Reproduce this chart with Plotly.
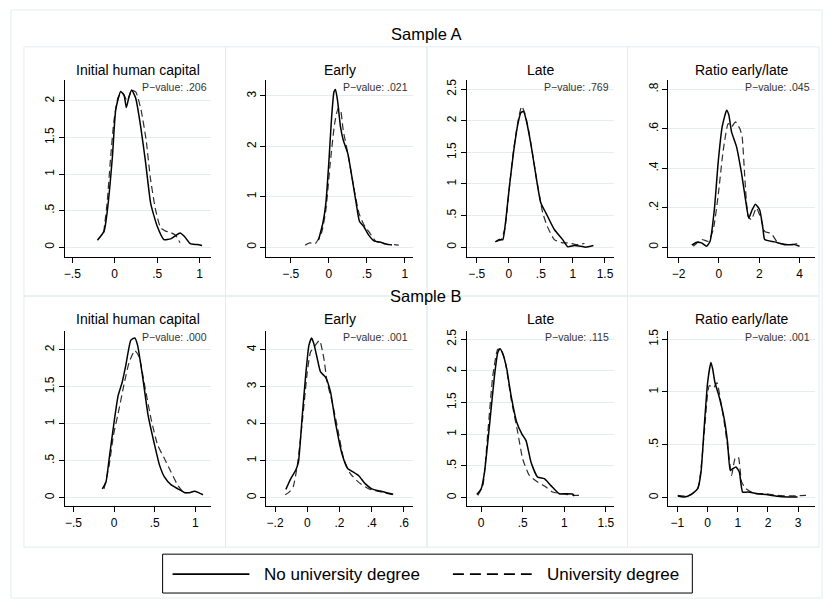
import plotly.graph_objects as go

# ---------------- data ----------------
panel_titles = ["Initial human capital", "Early", "Late", "Ratio early/late"] * 2
p_values = [".206", ".021", ".769", ".045", ".000", ".001", ".115", ".001"]
row_titles = ["Sample A", "Sample B"]
legend_labels = ["No university degree", "University degree"]

# Sample A - Initial human capital
a_init_no_x = [-0.204, -0.125, -0.086, -0.027, 0.012, 0.07, 0.11, 0.137, 0.169, 0.2, 0.247, 0.306, 0.365, 0.424, 0.5, 0.58, 0.66, 0.72, 0.77, 0.82, 0.89, 0.97, 1.03]
a_init_no_y = [0.095, 0.22, 0.51, 1.24, 1.88, 2.13, 2.08, 1.91, 2.06, 2.15, 2.04, 1.65, 1.15, 0.60, 0.29, 0.105, 0.114, 0.16, 0.195, 0.15, 0.05, 0.036, 0.023]
a_init_uni_x = [-0.13, -0.09, -0.05, -0.01, 0.04, 0.09, 0.15, 0.2, 0.25, 0.31, 0.37, 0.42, 0.48, 0.54, 0.6, 0.66, 0.72, 0.77]
a_init_uni_y = [0.2, 0.6, 1.2, 1.72, 2.05, 2.11, 2.0, 2.15, 2.12, 1.88, 1.47, 0.95, 0.52, 0.27, 0.22, 0.2, 0.16, 0.06]

# Sample A - Early
a_early_no_x = [-0.135, -0.077, -0.038, 0.0, 0.038, 0.069, 0.088, 0.115, 0.154, 0.19, 0.25, 0.31, 0.36, 0.404, 0.46, 0.52, 0.6, 0.67, 0.75, 0.83]
a_early_no_y = [0.14, 0.48, 0.875, 1.66, 2.59, 3.08, 3.125, 2.91, 2.39, 2.125, 1.86, 1.34, 0.875, 0.51, 0.41, 0.25, 0.12, 0.105, 0.066, 0.046]
a_early_uni_x = [-0.31, -0.25, -0.18, -0.096, -0.038, 0.019, 0.077, 0.123, 0.154, 0.19, 0.25, 0.327, 0.396, 0.46, 0.54, 0.615, 0.69, 0.79, 0.865, 0.92]
a_early_uni_y = [0.04, 0.085, 0.07, 0.28, 0.74, 1.66, 2.45, 2.75, 2.72, 2.32, 1.86, 1.2, 0.68, 0.45, 0.28, 0.12, 0.085, 0.05, 0.05, 0.04]

# Sample A - Late
a_late_no_x = [-0.21, -0.145, -0.093, -0.052, 0.01, 0.073, 0.14, 0.19, 0.23, 0.27, 0.35, 0.425, 0.5, 0.58, 0.71, 0.84, 0.92, 1.02, 1.12, 1.2, 1.32]
a_late_no_y = [0.084, 0.12, 0.12, 0.38, 0.96, 1.49, 1.94, 2.13, 2.15, 2.02, 1.6, 1.12, 0.7, 0.54, 0.28, 0.12, 0.005, 0.026, 0.016, 0.0, 0.026]
a_late_uni_x = [-0.2, -0.12, -0.06, 0.0, 0.07, 0.14, 0.2, 0.25, 0.3, 0.36, 0.43, 0.49, 0.53, 0.6, 0.71, 0.84, 0.94, 1.05, 1.18]
a_late_uni_y = [0.09, 0.12, 0.3, 0.85, 1.5, 1.97, 2.23, 2.12, 1.9, 1.55, 1.1, 0.75, 0.54, 0.33, 0.12, 0.068, 0.068, 0.04, 0.058]

# Sample A - Ratio early/late
a_ratio_no_x = [-1.35, -1.1, -0.86, -0.61, -0.44, -0.23, -0.03, 0.16, 0.38, 0.49, 0.625, 0.87, 1.12, 1.32, 1.48, 1.65, 1.81, 2.02, 2.19, 2.27, 2.77, 3.26, 3.75, 4.0]
a_ratio_no_y = [0.01, 0.025, 0.022, 0.005, 0.03, 0.19, 0.44, 0.61, 0.694, 0.67, 0.585, 0.51, 0.375, 0.24, 0.148, 0.19, 0.218, 0.19, 0.09, 0.039, 0.027, 0.013, 0.013, 0.005]
a_ratio_uni_x = [-1.27, -0.86, -0.53, -0.28, -0.03, 0.21, 0.46, 0.625, 0.82, 1.04, 1.15, 1.28, 1.45, 1.61, 1.86, 2.1, 2.27, 2.6, 2.93, 3.59, 4.08]
a_ratio_uni_y = [0.005, 0.039, 0.03, 0.09, 0.27, 0.49, 0.627, 0.61, 0.635, 0.6, 0.56, 0.36, 0.156, 0.14, 0.2, 0.14, 0.08, 0.069, 0.022, 0.013, 0.022]

# Sample B - Initial human capital
b_init_no_x = [-0.145, -0.10, -0.06, 0.0, 0.05, 0.10, 0.145, 0.207, 0.256, 0.29, 0.35, 0.42, 0.5, 0.56, 0.62, 0.70, 0.785, 0.87, 0.93, 0.99, 1.04, 1.095]
b_init_no_y = [0.12, 0.21, 0.53, 1.02, 1.38, 1.56, 1.79, 2.13, 2.16, 2.06, 1.65, 1.11, 0.71, 0.44, 0.28, 0.176, 0.12, 0.068, 0.068, 0.086, 0.068, 0.04]
b_init_uni_x = [-0.124, -0.06, -0.008, 0.062, 0.124, 0.186, 0.256, 0.31, 0.37, 0.455, 0.537, 0.62, 0.70, 0.785, 0.85, 0.89]
b_init_uni_y = [0.12, 0.44, 0.84, 1.2, 1.54, 1.83, 1.99, 1.9, 1.56, 1.07, 0.71, 0.53, 0.35, 0.167, 0.077, 0.054]

# Sample B - Early
b_early_no_x = [-0.133, -0.103, -0.072, -0.055, -0.031, -0.01, 0.01, 0.027, 0.041, 0.062, 0.082, 0.113, 0.144, 0.174, 0.215, 0.252, 0.287, 0.318, 0.359, 0.4, 0.451, 0.492, 0.533]
b_early_no_y = [0.225, 0.51, 0.74, 0.96, 2.23, 3.31, 4.12, 4.32, 4.16, 3.76, 3.4, 3.26, 2.86, 2.05, 1.19, 0.78, 0.69, 0.6, 0.38, 0.24, 0.18, 0.135, 0.09]
b_early_uni_x = [-0.137, -0.113, -0.088, -0.062, -0.031, 0.0, 0.02, 0.041, 0.076, 0.103, 0.123, 0.154, 0.185, 0.226, 0.267, 0.318, 0.38, 0.46, 0.533]
b_early_uni_y = [0.08, 0.15, 0.29, 0.87, 2.05, 3.4, 3.94, 4.07, 4.25, 3.76, 3.13, 2.59, 1.95, 1.05, 0.65, 0.42, 0.24, 0.15, 0.08]

# Sample B - Late
b_late_no_x = [-0.052, 0.0, 0.04, 0.1, 0.16, 0.2, 0.228, 0.268, 0.308, 0.36, 0.428, 0.492, 0.54, 0.6, 0.68, 0.76, 0.84, 0.94, 1.02, 1.1, 1.12]
b_late_no_y = [0.052, 0.14, 0.4, 1.14, 1.92, 2.29, 2.35, 2.24, 2.03, 1.61, 1.19, 1.0, 0.9, 0.56, 0.325, 0.3, 0.19, 0.063, 0.063, 0.058, 0.026]
b_late_uni_x = [-0.04, 0.02, 0.08, 0.14, 0.2, 0.24, 0.292, 0.36, 0.44, 0.5, 0.58, 0.68, 0.78, 0.86, 0.98, 1.1, 1.2]
b_late_uni_y = [0.037, 0.19, 1.03, 1.92, 2.34, 2.34, 2.13, 1.56, 1.03, 0.61, 0.35, 0.246, 0.168, 0.09, 0.063, 0.037, 0.037]

# Sample B - Ratio early/late
b_ratio_no_x = [-0.99, -0.77, -0.55, -0.33, -0.22, -0.11, 0.0, 0.11, 0.166, 0.243, 0.387, 0.55, 0.66, 0.75, 0.83, 0.94, 1.05, 1.16, 1.33, 1.66, 1.99, 2.32, 2.65, 2.98]
b_ratio_no_y = [0.016, 0.006, 0.028, 0.085, 0.24, 0.68, 1.09, 1.28, 1.22, 1.09, 0.95, 0.745, 0.525, 0.258, 0.274, 0.29, 0.242, 0.053, 0.053, 0.038, 0.028, 0.013, 0.006, 0.006]
b_ratio_uni_x = [-0.99, -0.66, -0.33, -0.11, 0.055, 0.2, 0.31, 0.42, 0.55, 0.718, 0.796, 0.906, 1.017, 1.127, 1.27, 1.55, 1.88, 2.32, 2.76, 3.26]
b_ratio_uni_y = [0.022, 0.016, 0.085, 0.62, 1.06, 1.04, 1.09, 0.934, 0.714, 0.368, 0.21, 0.368, 0.384, 0.148, 0.085, 0.038, 0.038, 0.022, 0.016, 0.022]

# tick values / labels
x_ticks = [
    ([-0.5, 0, 0.5, 1], ["\u2212.5", "0", ".5", "1"]),
    ([-0.5, 0, 0.5, 1], ["\u2212.5", "0", ".5", "1"]),
    ([-0.5, 0, 0.5, 1, 1.5], ["\u2212.5", "0", ".5", "1", "1.5"]),
    ([-2, 0, 2, 4], ["\u22122", "0", "2", "4"]),
    ([-0.5, 0, 0.5, 1], ["\u2212.5", "0", ".5", "1"]),
    ([-0.2, 0, 0.2, 0.4, 0.6], ["\u2212.2", "0", ".2", ".4", ".6"]),
    ([0, 0.5, 1, 1.5], ["0", ".5", "1", "1.5"]),
    ([-1, 0, 1, 2, 3], ["\u22121", "0", "1", "2", "3"]),
]
y_ticks = [
    ([0, 0.5, 1, 1.5, 2], ["0", ".5", "1", "1.5", "2"]),
    ([0, 1, 2, 3], ["0", "1", "2", "3"]),
    ([0, 0.5, 1, 1.5, 2, 2.5], ["0", ".5", "1", "1.5", "2", "2.5"]),
    ([0, 0.2, 0.4, 0.6, 0.8], ["0", ".2", ".4", ".6", ".8"]),
    ([0, 0.5, 1, 1.5, 2], ["0", ".5", "1", "1.5", "2"]),
    ([0, 1, 2, 3, 4], ["0", "1", "2", "3", "4"]),
    ([0, 0.5, 1, 1.5, 2, 2.5], ["0", ".5", "1", "1.5", "2", "2.5"]),
    ([0, 0.5, 1, 1.5], ["0", ".5", "1", "1.5"]),
]
x_ranges = [[-0.588, 1.141], [-0.82, 1.107], [-0.653, 1.633], [-2.51, 4.77],
            [-0.606, 1.2], [-0.254, 0.656], [-0.172, 1.593], [-1.30, 3.56]]
y_ranges = [[-0.136, 2.29], [-0.197, 3.32], [-0.158, 2.65], [-0.0505, 0.849],
            [-0.117, 2.255], [-0.234, 4.51], [-0.136, 2.63], [-0.082, 1.578]]

series_no = [
    (a_init_no_x, a_init_no_y), (a_early_no_x, a_early_no_y), (a_late_no_x, a_late_no_y), (a_ratio_no_x, a_ratio_no_y),
    (b_init_no_x, b_init_no_y), (b_early_no_x, b_early_no_y), (b_late_no_x, b_late_no_y), (b_ratio_no_x, b_ratio_no_y),
]
series_uni = [
    (a_init_uni_x, a_init_uni_y), (a_early_uni_x, a_early_uni_y), (a_late_uni_x, a_late_uni_y), (a_ratio_uni_x, a_ratio_uni_y),
    (b_init_uni_x, b_init_uni_y), (b_early_uni_x, b_early_uni_y), (b_late_uni_x, b_late_uni_y), (b_ratio_uni_x, b_ratio_uni_y),
]

# ---------------- layout helpers ----------------
W, H = 833, 606
FONT = "Liberation Sans, Arial, Helvetica, sans-serif"
FRAME = "#E3ECEF"
GRID = "#E3ECEF"
DASH_COLOR = "#2e2e2e"


def px(x):
    return x / W


def py(y):
    return 1 - y / H


col_px = [(64, 211), (266, 413), (467, 614), (669, 816)]
row_px = [(78, 256), (330, 506)]
title_y = [68, 318]
pval_y = [85, 336]

fig = go.Figure()
layout = dict(
    width=W, height=H, margin=dict(l=0, r=0, t=0, b=0),
    paper_bgcolor="white", plot_bgcolor="white",
    showlegend=False, font=dict(family=FONT, color="black"),
)
annotations = []
shapes = []

for i in range(8):
    r, c = divmod(i, 4)
    n = "" if i == 0 else str(i + 1)
    xl, xr = col_px[c]
    yt, yb = row_px[r]
    nx, ny = series_no[i]
    ux, uy = series_uni[i]
    fig.add_trace(go.Scatter(
        x=ux, y=uy, mode="lines", xaxis="x" + n, yaxis="y" + n,
        name=legend_labels[1], hoverinfo="skip",
        line=dict(color=DASH_COLOR, width=1.2, dash="7px,4px", shape="spline", smoothing=0.5),
    ))
    fig.add_trace(go.Scatter(
        x=nx, y=ny, mode="lines", xaxis="x" + n, yaxis="y" + n,
        name=legend_labels[0], hoverinfo="skip",
        line=dict(color="black", width=1.5, shape="spline", smoothing=0.5),
    ))
    layout["xaxis" + n] = dict(
        domain=[px(xl), px(xr)], anchor="y" + n, range=x_ranges[i],
        tickvals=x_ticks[i][0], ticktext=x_ticks[i][1],
        showline=True, linecolor="black", linewidth=1,
        ticks="outside", ticklen=5, tickcolor="black", tickwidth=1,
        showgrid=False, zeroline=False, fixedrange=True,
        tickfont=dict(size=12, family=FONT, color="black"),
    )
    layout["yaxis" + n] = dict(
        domain=[py(yb), py(yt)], anchor="x" + n, range=y_ranges[i],
        tickvals=y_ticks[i][0], ticktext=y_ticks[i][1], tickangle=-90,
        showline=True, linecolor="black", linewidth=1,
        ticks="outside", ticklen=5, tickcolor="black", tickwidth=1,
        showgrid=True, gridcolor=GRID, gridwidth=1, zeroline=False, fixedrange=True,
        tickfont=dict(size=12, family=FONT, color="black"),
    )
    annotations.append(dict(
        text=panel_titles[i], x=px((xl + xr) / 2), y=py(title_y[r]),
        xref="paper", yref="paper", xanchor="center", yanchor="middle",
        showarrow=False, font=dict(size=14, family=FONT, color="black"),
    ))
    annotations.append(dict(
        text="P\u2212value: " + p_values[i], x=px(xr - 3), y=py(pval_y[r]),
        xref="paper", yref="paper", xanchor="right", yanchor="middle",
        showarrow=False, font=dict(size=10.5, family=FONT, color="#333333"),
    ))

# row titles
for r, yy in enumerate([32, 295]):
    annotations.append(dict(
        text=row_titles[r], x=px(426.5), y=py(yy), xref="paper", yref="paper",
        xanchor="center", yanchor="middle", showarrow=False,
        font=dict(size=16.5, family=FONT, color="black"),
    ))


# frames
def rect(x0, y0, x1, y1, color, width=1):
    return dict(type="rect", xref="paper", yref="paper",
                x0=px(x0), x1=px(x1), y0=py(y1), y1=py(y0),
                line=dict(color=color, width=width), fillcolor="rgba(0,0,0,0)", layer="below")


shapes.append(rect(10, 8, 823, 598, FRAME))
col_edges = [23, 225, 427, 628, 820]
for (y0, y1) in [(45, 295), (295, 547)]:
    for c in range(4):
        shapes.append(rect(col_edges[c], y0, col_edges[c + 1], y1, FRAME))

# legend
shapes.append(dict(type="rect", xref="paper", yref="paper",
                   x0=px(162), x1=px(693), y0=py(593), y1=py(554),
                   line=dict(color="black", width=1), fillcolor="white", layer="above"))
shapes.append(dict(type="line", xref="paper", yref="paper",
                   x0=px(172), x1=px(249), y0=py(574), y1=py(574),
                   line=dict(color="black", width=1.6)))
shapes.append(dict(type="line", xref="paper", yref="paper",
                   x0=px(453), x1=px(532), y0=py(574), y1=py(574),
                   line=dict(color="black", width=1.6, dash="11px,6px")))
annotations.append(dict(text=legend_labels[0], x=px(262), y=py(574), xref="paper", yref="paper",
                        xanchor="left", yanchor="middle", showarrow=False,
                        font=dict(size=17, family=FONT, color="black")))
annotations.append(dict(text=legend_labels[1], x=px(545), y=py(574), xref="paper", yref="paper",
                        xanchor="left", yanchor="middle", showarrow=False,
                        font=dict(size=17, family=FONT, color="black")))

layout["annotations"] = annotations
layout["shapes"] = shapes
fig.update_layout(**layout)
fig.write_html("out.html")
